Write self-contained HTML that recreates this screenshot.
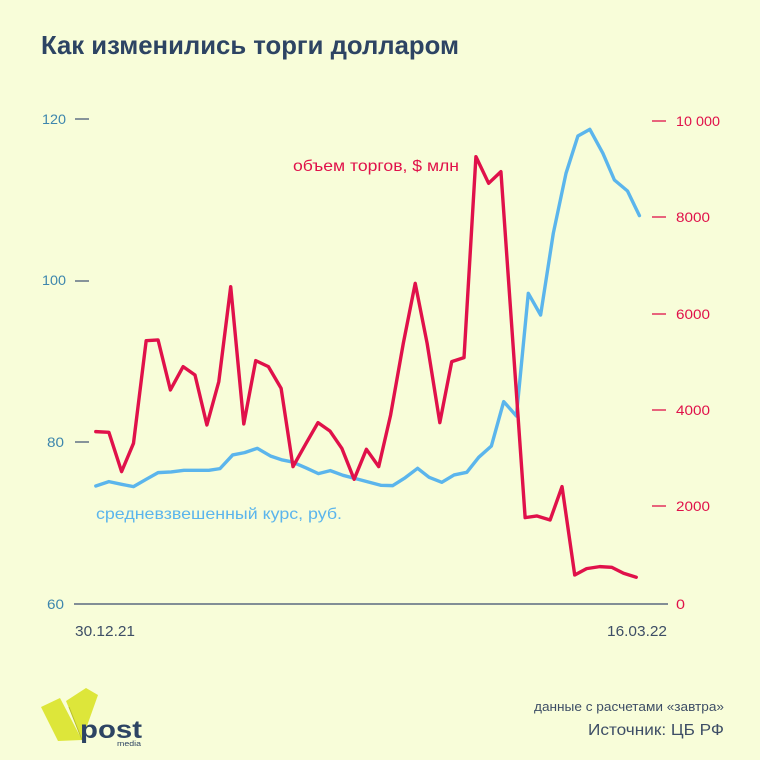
<!DOCTYPE html>
<html><head><meta charset="utf-8"><style>
html,body{margin:0;padding:0;background:#f8fdd9;}
svg{display:block;font-family:"Liberation Sans","DejaVu Sans",sans-serif;}
</style></head><body>
<svg width="760" height="760" viewBox="0 0 760 760" xmlns="http://www.w3.org/2000/svg">
<rect width="760" height="760" fill="#f8fdd9"/>
<text x="41" y="54" font-size="26" font-weight="bold" fill="#2d4463" textLength="418" lengthAdjust="spacingAndGlyphs">Как изменились торги долларом</text>

<g fill="#3d86ad" font-size="14">
<text x="42" y="124" textLength="24" lengthAdjust="spacingAndGlyphs">120</text>
<text x="42" y="285" textLength="24" lengthAdjust="spacingAndGlyphs">100</text>
<text x="47" y="447" textLength="17" lengthAdjust="spacingAndGlyphs">80</text>
<text x="47" y="609" textLength="17" lengthAdjust="spacingAndGlyphs">60</text>
</g>
<g stroke="#4a5d78" stroke-width="1.3">
<line x1="75" x2="89" y1="119" y2="119"/>
<line x1="75" x2="89" y1="281" y2="281"/>
<line x1="75" x2="89" y1="442" y2="442"/>
</g>
<g stroke="#e0114a" stroke-width="1.3">
<line x1="652" x2="666" y1="121" y2="121"/>
<line x1="652" x2="666" y1="217" y2="217"/>
<line x1="652" x2="666" y1="314" y2="314"/>
<line x1="652" x2="666" y1="410" y2="410"/>
<line x1="652" x2="666" y1="506" y2="506"/>
</g>
<g fill="#e0114a" font-size="14">
<text x="676" y="126" textLength="44" lengthAdjust="spacingAndGlyphs">10 000</text>
<text x="676" y="222" textLength="34" lengthAdjust="spacingAndGlyphs">8000</text>
<text x="676" y="319" textLength="34" lengthAdjust="spacingAndGlyphs">6000</text>
<text x="676" y="415" textLength="34" lengthAdjust="spacingAndGlyphs">4000</text>
<text x="676" y="511" textLength="34" lengthAdjust="spacingAndGlyphs">2000</text>
<text x="676" y="609" textLength="9" lengthAdjust="spacingAndGlyphs">0</text>
</g>
<line x1="74" x2="668" y1="604" y2="604" stroke="#5a6a80" stroke-width="1.5"/>
<g fill="#3e4e66" font-size="15">
<text x="75" y="636" textLength="60" lengthAdjust="spacingAndGlyphs">30.12.21</text>
<text x="607" y="636" textLength="60" lengthAdjust="spacingAndGlyphs">16.03.22</text>
</g>

<g transform="translate(70,100) scale(0.3968,0.3333)" fill="none" stroke-linejoin="round" stroke-linecap="round">
<polyline vector-effect="non-scaling-stroke" stroke="#5bb5ec" stroke-width="3.4" points="65,1158 98,1145 130,1153 160,1160 192,1138 222,1118 255,1116 287,1111 318,1111 350,1111 378,1106 410,1065 440,1058 472,1045 505,1068 535,1080 560,1086 595,1104 626,1121 656,1112 688,1126 720,1136 752,1146 783,1156 813,1157 845,1133 876,1105 905,1132 937,1147 968,1125 1000,1117 1030,1072 1062,1038 1093,905 1125,948 1155,580 1186,645 1218,400 1250,220 1280,108 1310,88 1343,160 1372,240 1405,273 1435,347"/>
<polyline vector-effect="non-scaling-stroke" stroke="#e0114a" stroke-width="3.4" points="65,995 98,997 130,1115 160,1030 192,722 222,720 253,870 285,800 315,825 345,975 375,845 405,560 438,972 468,782 500,800 532,865 562,1100 595,1030 625,968 655,993 685,1045 716,1138 747,1048 778,1100 808,945 840,730 870,550 900,730 932,968 962,785 993,773 1023,170 1055,250 1086,215 1147,1253 1177,1248 1210,1260 1240,1160 1272,1425 1302,1406 1335,1400 1365,1402 1395,1420 1427,1432"/>
</g>

<text x="293" y="171" font-size="16" fill="#e0114a" textLength="166" lengthAdjust="spacingAndGlyphs">объем торгов, $ млн</text>
<text x="96" y="519" font-size="16" fill="#5bb5ec" textLength="246" lengthAdjust="spacingAndGlyphs">средневзвешенный курс, руб.</text>

<!-- logo -->
<polygon points="41,707 60,698 82,740 58,741" fill="#dde63a"/>
<polygon points="66,701 86,688 98,695 82,740" fill="#dde63a"/>
<line x1="69" y1="707" x2="82" y2="740" stroke="#b9c02a" stroke-width="1"/>
<text x="80" y="738" font-size="25" font-weight="bold" fill="#2d4463" textLength="62" lengthAdjust="spacingAndGlyphs">post</text>
<text x="117" y="746" font-size="7" fill="#2d4463" textLength="24" lengthAdjust="spacingAndGlyphs">media</text>

<text x="724" y="711" font-size="13" fill="#3e4e66" text-anchor="end" textLength="190" lengthAdjust="spacingAndGlyphs">данные с расчетами «завтра»</text>
<text x="724" y="735" font-size="16" fill="#3e4e66" text-anchor="end" textLength="136" lengthAdjust="spacingAndGlyphs">Источник: ЦБ РФ</text>
</svg>
</body></html>
